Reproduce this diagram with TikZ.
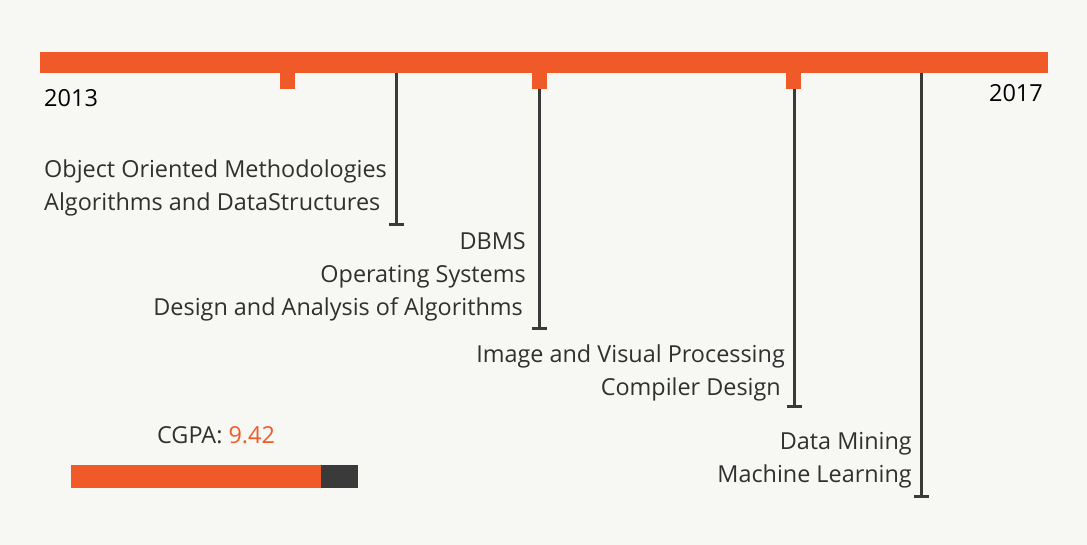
\documentclass[tikz,border=0pt]{standalone}
\usepackage{fontspec}
\setmainfont{Open Sans}
\definecolor{accent}{HTML}{F05A28}
\definecolor{ink}{HTML}{3A3A3A}
\definecolor{txt}{HTML}{303030}
\definecolor{paper}{HTML}{F7F7F3}
\begin{document}
\begin{tikzpicture}[x=1pt,y=-1pt,
  bodytext/.style={inner sep=0pt,text=txt,font=\fontsize{23.4}{28}\selectfont},
  yeartext/.style={inner sep=0pt,text=black,font=\fontsize{23.5}{28}\selectfont},
  stem/.style={draw=ink,line width=3pt},
  stemcap/.style={draw=ink,line width=3pt}]
% page
\fill[paper] (0,0) rectangle (1087,545);
\useasboundingbox (0,0) rectangle (1087,545);

% main timeline bar and tabs
\fill[accent] (40,52) rectangle (1048,73);
\fill[accent] (280,73) rectangle (295,89);
\fill[accent] (532,73) rectangle (547,89);
\fill[accent] (786,73) rectangle (801,89);

% years
\node[yeartext,anchor=base west] (y13) at (44,106.5) {2013};
\node[yeartext,anchor=base east] (y17) at (1043,101.5) {2017};

% stems
\coordinate (s1) at (396.5,73);  \coordinate (e1) at (396.5,225);
\coordinate (s2) at (539.5,89);  \coordinate (e2) at (539.5,329);
\coordinate (s3) at (794.5,89);  \coordinate (e3) at (794.5,406);
\coordinate (s4) at (921.5,73);  \coordinate (e4) at (921.5,496);
\foreach \k in {1,2,3,4}{
  \draw[stem] (s\k) -- (e\k);
  \draw[stemcap] ([xshift=-7.5pt]e\k) -- ([xshift=7.5pt]e\k);
}

% course labels
\node[bodytext,anchor=base west] (c11) at (44,178) {Object Oriented Methodologies};
\node[bodytext,anchor=base west] (c12) at (44,211) {Algorithms and DataStructures};

\node[bodytext,anchor=base east] (c21) at (526,250) {DBMS};
\node[bodytext,anchor=base east] (c22) at (526,283) {Operating Systems};
\node[bodytext,anchor=base east] (c23) at (523,316) {Design and Analysis of Algorithms};

\node[bodytext,anchor=base east] (c31) at (785,362) {Image and Visual Processing};
\node[bodytext,anchor=base east] (c32) at (781,395) {Compiler Design};

\node[bodytext,anchor=base east] (c41) at (912,449) {Data Mining};
\node[bodytext,anchor=base east] (c42) at (912,482) {Machine Learning};

% CGPA gauge
\node[bodytext,anchor=base west] (cg) at (157,443) {CGPA: \textcolor{accent}{9.42}};
\fill[accent] (71,465) rectangle (321,488);
\fill[ink] (321,465) rectangle (358,488);
\end{tikzpicture}
\end{document}
